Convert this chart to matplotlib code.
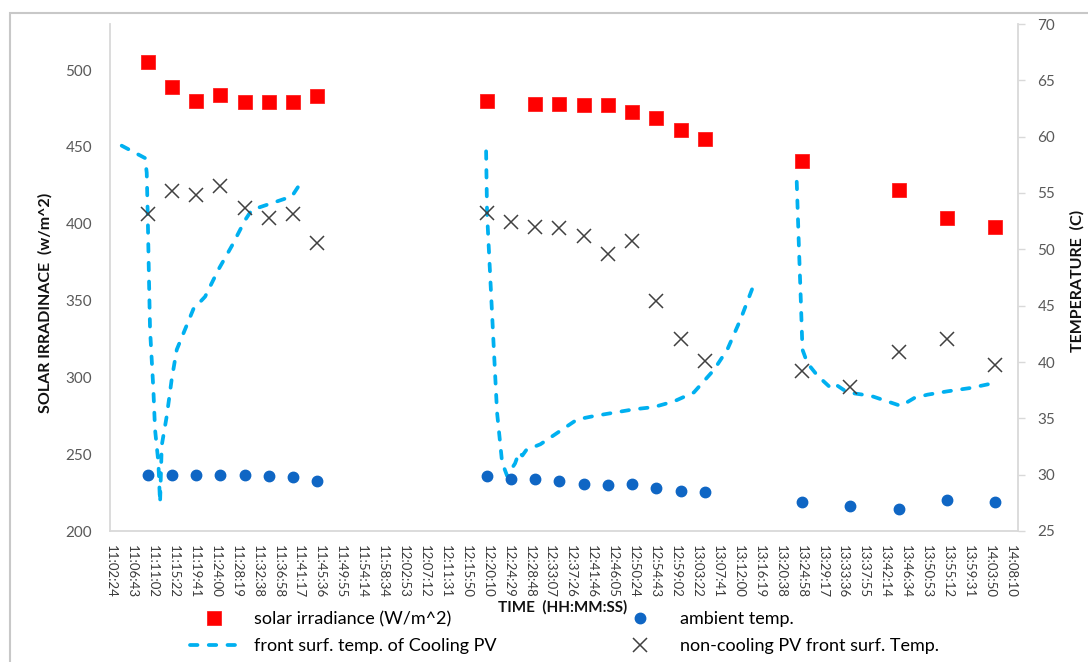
import matplotlib
matplotlib.use('Agg')
import matplotlib.pyplot as plt
from matplotlib.patches import Rectangle

plt.rcParams['font.family'] = ['Lato', 'DejaVu Sans']

def sec(t):
    p = [int(v) for v in t.split(':')]
    while len(p) < 3:
        p.append(0)
    return p[0] * 3600 + p[1] * 60 + p[2]

# ---------------- data ----------------
tick_labels = ["11:02:24", "11:06:43", "11:11:02", "11:15:22", "11:19:41", "11:24:00",
               "11:28:19", "11:32:38", "11:36:58", "11:41:17", "11:45:36", "11:49:55",
               "11:54:14", "11:58:34", "12:02:53", "12:07:12", "12:11:31", "12:15:50",
               "12:20:10", "12:24:29", "12:28:48", "12:33:07", "12:37:26", "12:41:46",
               "12:46:05", "12:50:24", "12:54:43", "12:59:02", "13:03:22", "13:07:41",
               "13:12:00", "13:16:19", "13:20:38", "13:24:58", "13:29:17", "13:33:36",
               "13:37:55", "13:42:14", "13:46:34", "13:50:53", "13:55:12", "13:59:31",
               "14:03:50", "14:08:10"]

irr_times = ["11:10", "11:15", "11:20", "11:25", "11:30", "11:35", "11:40", "11:45",
             "12:20", "12:30", "12:35", "12:40", "12:45", "12:50", "12:55", "13:00", "13:05",
             "13:25", "13:45", "13:55", "14:05"]
irr_values = [505, 489, 480, 484, 479, 479, 479, 483,
              480, 478, 478, 477, 477, 473, 469, 461, 455,
              441, 422, 404, 398]

temp_times = ["11:10", "11:15", "11:20", "11:25", "11:30", "11:35", "11:40", "11:45",
              "12:20", "12:25", "12:30", "12:35", "12:40", "12:45", "12:50", "12:55", "13:00", "13:05",
              "13:25", "13:35", "13:45", "13:55", "14:05"]
ambient_values = [30.0, 30.0, 30.0, 30.0, 30.0, 29.85, 29.75, 29.45,
                  29.85, 29.6, 29.6, 29.45, 29.15, 29.05, 29.15, 28.85, 28.55, 28.45,
                  27.6, 27.2, 26.95, 27.75, 27.55]
noncool_values = [53.1, 55.2, 54.8, 55.6, 53.7, 52.8, 53.1, 50.6,
                  53.2, 52.4, 52.0, 51.9, 51.2, 49.6, 50.7, 45.4, 42.0, 40.1,
                  39.2, 37.8, 40.9, 42.0, 39.7]

cool_times_1 = ["11:04:37", "11:09:26", "11:09:47", "11:09:59", "11:10:15", "11:10:28",
                "11:11:09", "11:11:30", "11:12:11", "11:12:32", "11:12:53", "11:13:55",
                "11:14:57", "11:15:59", "11:17:42", "11:19:25", "11:21:50", "11:24:35",
                "11:27:21", "11:30:06", "11:31:29", "11:33:33", "11:37:41", "11:39:45",
                "11:41:07"]
cool_values_1 = [59.2, 58.1, 56.8, 53.2, 47.3, 42.9, 37.6, 34.0, 31.1, 27.5, 32.6, 35.2,
                 38.5, 41.1, 42.9, 44.7, 45.8, 48.2, 50.3, 52.6, 53.5, 53.8, 54.4, 54.7,
                 55.6]

cool_times_2 = ["12:19:51", "12:20:03", "12:20:44", "12:21:25", "12:22:07", "12:23:09",
                "12:24:11", "12:25:50", "12:26:40", "12:27:20", "12:28:10", "12:31:04",
                "12:34:31", "12:38:39", "12:42:05", "12:46:13", "12:50:21", "12:54:29",
                "12:58:37", "13:02:45", "13:06:53", "13:09:39", "13:12:24", "13:15:09"]
cool_values_2 = [58.7, 53.2, 47.3, 41.4, 35.5, 31.1, 29.9, 31.0, 32.0, 31.7, 32.2, 32.7,
                 33.7, 34.9, 35.2, 35.5, 35.8, 36.0, 36.5, 37.3, 39.3, 41.1, 43.8, 46.9]

cool_times_3 = ["13:23:59", "13:24:27", "13:24:49", "13:25:10", "13:26:11", "13:28:15",
                "13:31:00", "13:32:02", "13:34:27", "13:39:17", "13:42:44", "13:45:29",
                "13:48:14", "13:50:59", "13:55:08", "13:59:57", "14:05:27"]
cool_values_3 = [56.0, 50.0, 45.6, 41.1, 39.9, 38.8, 37.7, 38.0, 37.3, 37.0, 36.5, 36.1,
                 36.8, 37.1, 37.4, 37.7, 38.2]

left_ticks = [200, 250, 300, 350, 400, 450, 500]
right_ticks = [25, 30, 35, 40, 45, 50, 55, 60, 65, 70]

# ---------------- figure ----------------
W, H = 1088, 662
fig = plt.figure(figsize=(W / 100, H / 100), dpi=100)
fig.patch.set_facecolor('white')

def fx(px):
    return px / W

def fy(py):
    return 1 - py / H

# outer chart border (cut by image edge)
fig.patches.append(Rectangle((fx(10), fy(700)), fx(1100) - fx(10), fy(13) - fy(700),
                             transform=fig.transFigure, fill=False,
                             edgecolor='#c8c8c8', linewidth=1.5))

ax = fig.add_axes([fx(110), fy(531), fx(1018) - fx(110), fy(24) - fy(531)])
ax2 = ax.twinx()

grey = '#d9d9d9'
lab = '#595959'

# solar irradiance (left axis)
h_irr, = ax.plot([sec(t) for t in irr_times], irr_values, linestyle='none', marker='s',
                 markersize=10, markerfacecolor='#ff0000', markeredgecolor='#ff2020',
                 markeredgewidth=0.6, label='solar irradiance (W/m^2)')

# cooling PV dashed line (right axis)
cool_kw = dict(color='#00b0f0', linewidth=2.7, linestyle=(0, (2.0, 3.0)),
               dash_capstyle='round')
h_cool = None
for tt, vv in [(cool_times_1, cool_values_1), (cool_times_2, cool_values_2),
               (cool_times_3, cool_values_3)]:
    ln, = ax2.plot([sec(t) for t in tt], vv, **cool_kw)
    if h_cool is None:
        h_cool = ln
h_cool.set_label('front surf. temp. of Cooling PV')

tsec = [sec(t) for t in temp_times]
h_amb, = ax2.plot(tsec, ambient_values, linestyle='none', marker='o', markersize=7.5,
                  markerfacecolor='#0f66c4', markeredgecolor='#0f66c4',
                  label='ambient temp.')
h_x, = ax2.plot(tsec, noncool_values, linestyle='none', marker='x', markersize=10,
                markeredgewidth=1.1, color='#404040',
                label='non-cooling PV front surf. Temp.')

# axes limits & ticks
xticks = [sec(t) for t in tick_labels]
ax.set_xlim(sec("11:02:12"), sec("14:09:40"))
ax.set_xticks(xticks)
ax.set_xticklabels(tick_labels, rotation=-90, fontsize=9.5, color='#3a3a3a')
ax.set_ylim(200, 530)
ax.set_yticks(left_ticks)
ax.set_yticklabels([str(v) for v in left_ticks], fontsize=11, color=lab)
ax2.set_ylim(25, 70)
ax2.set_yticks(right_ticks)
ax2.set_yticklabels([str(v) for v in right_ticks], fontsize=11, color=lab)

ax.tick_params(axis='x', length=0, pad=10)
ax.tick_params(axis='y', length=0, pad=13)
ax2.tick_params(axis='y', length=5, width=1, color=grey, direction='out', pad=9)

for a in (ax, ax2):
    for s in a.spines.values():
        s.set_visible(False)
ax.spines['left'].set_visible(True)
ax.spines['left'].set_color(grey)
ax.spines['left'].set_linewidth(1.3)
ax.spines['bottom'].set_visible(True)
ax.spines['bottom'].set_color(grey)
ax.spines['bottom'].set_linewidth(1.3)
ax2.spines['right'].set_visible(True)
ax2.spines['right'].set_color(grey)
ax2.spines['right'].set_linewidth(1.3)

# axis titles
fig.text(fx(45), fy(303), 'SOLAR IRRADINACE  (w/m^2)', rotation=90, ha='center',
         va='center', fontsize=11.5, fontweight='bold', color='#111111')
fig.text(fx(1077), fy(281), 'TEMPERATURE  (C)', rotation=90, ha='center',
         va='center', fontsize=11.5, fontweight='bold', color='#111111')
fig.text(fx(563), fy(607), 'TIME  (HH:MM:SS)', ha='center', va='center',
         fontsize=11, fontweight='bold', color='#111111')

# legends (two columns)
leg_kw = dict(frameon=False, fontsize=13, handlelength=2.7, handletextpad=0.85,
              labelspacing=0.62, borderpad=0, borderaxespad=0, loc='upper left')
leg1 = fig.legend([h_irr, h_cool], [h_irr.get_label(), h_cool.get_label()],
                  bbox_to_anchor=(fx(190), fy(611)), **leg_kw)
leg2 = fig.legend([h_amb, h_x], [h_amb.get_label(), h_x.get_label()],
                  bbox_to_anchor=(fx(616), fy(611)), **leg_kw)

fig.savefig('out.png', dpi=100)
